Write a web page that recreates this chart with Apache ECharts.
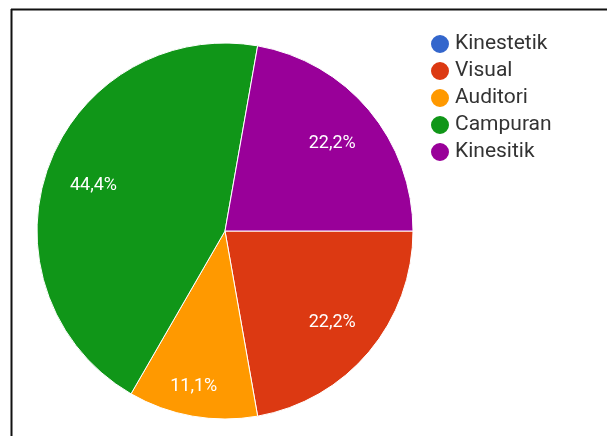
<!DOCTYPE html>
<html>
<head>
    <meta charset="utf-8">
    <script src="https://cdn.jsdelivr.net/npm/echarts@6/dist/echarts.min.js"></script>
    <style>
        * { padding: 0; margin: 0 }
        body, html { height: 100%; width: 100%; background: #fff }
        #container { height: 436px; width: 607px }
    </style>
</head>
<body>
    <div id="container"></div>
</body>
<script>
    const categories = ['Kinestetik', 'Visual', 'Auditori', 'Campuran', 'Kinesitik'];
    const counts = [0, 2, 1, 4, 2];
    const colors = ['#3366cc', '#dc3912', '#ff9900', '#109618', '#990099'];

    const total = counts.reduce((a, b) => a + b, 0);
    const data = categories.map((name, i) => ({ name: name, value: counts[i] }));

    // label layer: same slices, the small one nudged outward a bit like google does
    const labelData = categories.map((name, i) => {
        const d = { name: name, value: counts[i] };
        if (name === 'Auditori') d.label = { offset: [-7, 16] };
        return d;
    });

    function pct(p) {
        if (!p.value) return '';
        return (p.value / total * 100).toFixed(1).replace('.', ',') + '%';
    }

    const myChart = echarts.init(document.getElementById('container'));

    myChart.setOption({
        animation: false,
        color: colors,
        legend: {
            orient: 'vertical',
            left: 424,
            top: 28,
            icon: 'circle',
            itemWidth: 20,
            itemHeight: 20,
            itemGap: 5,
            data: categories,
            textStyle: { fontFamily: 'Roboto', fontSize: 21, color: '#333' }
        },
        graphic: [
            { type: 'line', shape: { x1: 11, y1: 9.5, x2: 607, y2: 9.5 }, style: { stroke: '#111', lineWidth: 2 } },
            { type: 'line', shape: { x1: 11.5, y1: 9, x2: 11.5, y2: 436 }, style: { stroke: '#111', lineWidth: 2 } }
        ],
        series: [
            {
                type: 'pie',
                center: [225, 231],
                radius: 188,
                startAngle: 0,
                clockwise: true,
                avoidLabelOverlap: false,
                itemStyle: { borderColor: '#fff', borderWidth: 1 },
                label: { show: false },
                labelLine: { show: false },
                emphasis: { disabled: true },
                data: data
            },
            {
                type: 'pie',
                center: [225, 233],
                radius: [86, 188],
                startAngle: 0,
                clockwise: true,
                silent: true,
                avoidLabelOverlap: false,
                legendHoverLink: false,
                itemStyle: { color: 'rgba(0,0,0,0)', borderWidth: 0 },
                label: {
                    position: 'inside',
                    formatter: pct,
                    color: '#fff',
                    fontFamily: 'Roboto',
                    fontSize: 18
                },
                labelLine: { show: false },
                emphasis: { disabled: true },
                data: labelData
            }
        ]
    });
</script>
</html>
